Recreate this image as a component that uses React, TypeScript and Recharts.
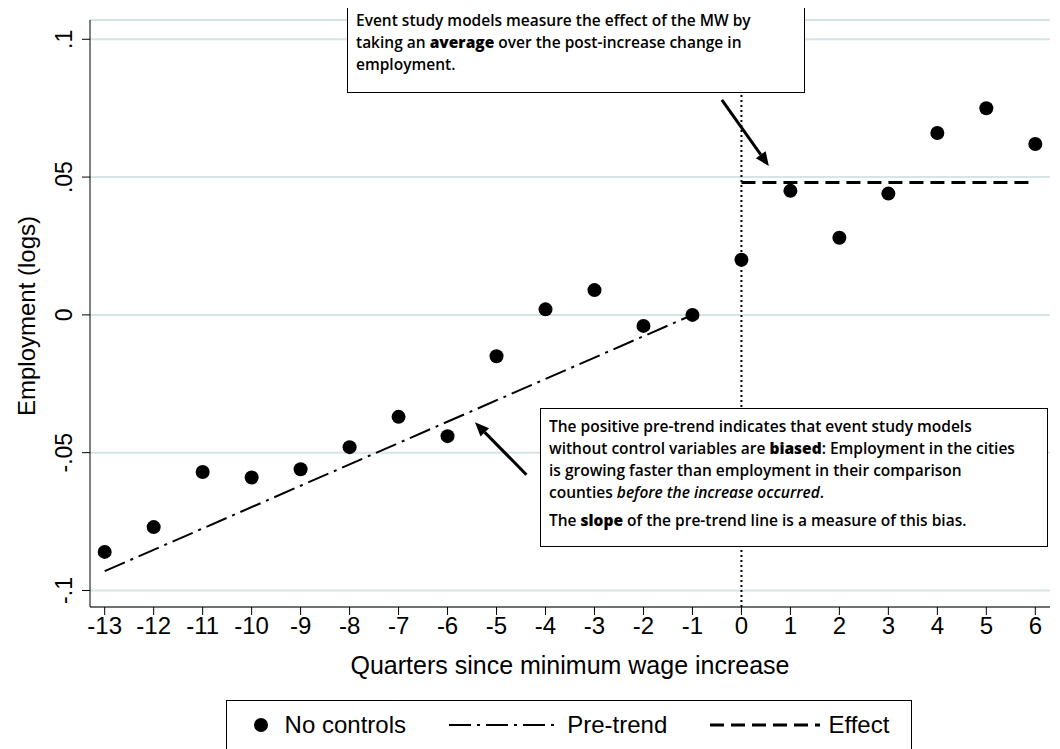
import React from 'react';
import {
  ComposedChart,
  Scatter,
  Line,
  XAxis,
  YAxis,
  CartesianGrid,
  ReferenceLine,
} from 'recharts';

const QUARTERS = [-13, -12, -11, -10, -9, -8, -7, -6, -5, -4, -3, -2, -1, 0, 1, 2, 3, 4, 5, 6];
const NO_CONTROLS = [
  -0.086, -0.077, -0.057, -0.059, -0.056, -0.048, -0.037, -0.044, -0.015, 0.002,
  0.009, -0.004, 0, 0.02, 0.045, 0.028, 0.044, 0.066, 0.075, 0.062,
];
const PRE_TREND = [
  { q: -13, v: -0.093 },
  { q: -1, v: 0 },
];
const EFFECT = [
  { q: 0, v: 0.048 },
  { q: 6, v: 0.048 },
];
const Y_TICKS = [-0.1, -0.05, 0, 0.05, 0.1];
const Y_LABELS = ['-.1', '-.05', '0', '.05', '.1'];

const points = QUARTERS.map((q, i) => ({ q, v: NO_CONTROLS[i] }));
const FONT = '"Liberation Sans", Arial, sans-serif';
const NOTE_FONT = '"Open Sans", "DejaVu Sans", sans-serif';

const YTick = (props: any) => {
  const { x, y, payload } = props;
  const label = Y_LABELS[Y_TICKS.indexOf(payload.value)] ?? String(payload.value);
  return (
    <text
      x={x - 8}
      y={y}
      transform={`rotate(-90 ${x - 8} ${y})`}
      textAnchor="middle"
      fontSize={23}
      fontFamily={FONT}
      fill="#000"
    >
      {label}
    </text>
  );
};

const Arrow = (props: any) => {
  const { x1, y1, x2, y2 } = props;
  if ([x1, y1, x2, y2].some((v) => typeof v !== 'number')) return null;
  const a = Math.atan2(y2 - y1, x2 - x1);
  const L = 14;
  const w = 6;
  const bx = x2 - L * Math.cos(a);
  const by = y2 - L * Math.sin(a);
  const px = -Math.sin(a) * w;
  const py = Math.cos(a) * w;
  return (
    <g>
      <line x1={x1} y1={y1} x2={bx} y2={by} stroke="#000" strokeWidth={3} />
      <polygon points={`${x2},${y2} ${bx + px},${by + py} ${bx - px},${by - py}`} fill="#000" />
    </g>
  );
};

const Dot = (props: any) => <circle cx={props.cx} cy={props.cy} r={7} fill="#000" />;

const noteStyle: React.CSSProperties = {
  position: 'absolute',
  boxSizing: 'border-box',
  padding: '6px 8px',
  border: '1px solid #000',
  background: '#fff',
  fontFamily: NOTE_FONT,
  fontSize: 15.5,
  fontWeight: 600,
  lineHeight: '22px',
};

export default function App() {
  return (
    <div style={{ position: 'relative', width: 1060, height: 749, margin: '-8px 0 0 -8px', background: '#fff' }}>
      <ComposedChart
        width={1060}
        height={660}
        margin={{ top: 20, right: 10, left: 0, bottom: 0 }}
      >
        <CartesianGrid horizontal vertical={false} stroke="#d6e4e8" strokeWidth={2} />
        <XAxis
          dataKey="q"
          type="number"
          domain={[-13.3, 6.3]}
          ticks={QUARTERS}
          height={53}
          tick={{ fontSize: 24, fontFamily: FONT, fill: '#000' }}
          tickSize={8}
          stroke="#000"
          allowDuplicatedCategory={false}
        />
        <YAxis
          type="number"
          domain={[-0.106, 0.107]}
          ticks={Y_TICKS}
          width={90}
          tick={<YTick />}
          tickSize={8}
          stroke="#000"
        />
        <ReferenceLine x={0} stroke="#000" strokeWidth={2} strokeDasharray="2 3" />
        <Line
          data={PRE_TREND}
          dataKey="v"
          stroke="#000"
          strokeWidth={2}
          strokeDasharray="22 6 3 6"
          dot={false}
          isAnimationActive={false}
        />
        <Line
          data={EFFECT}
          dataKey="v"
          stroke="#000"
          strokeWidth={3}
          strokeDasharray="14 7"
          dot={false}
          isAnimationActive={false}
        />
        <Scatter data={points} dataKey="v" shape={<Dot />} isAnimationActive={false} />
        <ReferenceLine segment={[{ x: -0.4, y: 0.078 }, { x: 0.56, y: 0.054 }]} shape={<Arrow />} />
        <ReferenceLine segment={[{ x: -4.39, y: -0.058 }, { x: -5.44, y: -0.039 }]} shape={<Arrow />} />
      </ComposedChart>

      <div style={{ position: 'absolute', left: 0, top: 316, width: 54, height: 0 }}>
        <div
          style={{
            position: 'absolute',
            left: 27,
            top: 0,
            transform: 'translate(-50%, -50%) rotate(-90deg)',
            whiteSpace: 'nowrap',
            fontFamily: FONT,
            fontSize: 24,
          }}
        >
          Employment (logs)
        </div>
      </div>
      <div
        style={{
          position: 'absolute',
          left: 90,
          width: 960,
          top: 651,
          textAlign: 'center',
          fontFamily: FONT,
          fontSize: 25,
        }}
      >
        Quarters since minimum wage increase
      </div>

      <div style={{ ...noteStyle, left: 347, top: 2, width: 458, height: 91 }}>
        Event study models measure the effect of the MW by taking an <b>average</b> over the
        post-increase change in employment.
      </div>

      <div style={{ ...noteStyle, left: 540, top: 408, width: 508, height: 139, whiteSpace: 'nowrap' }}>
        <div>
          The positive pre-trend indicates that event study models
          <br />
          without control variables are <b>biased</b>: Employment in the cities
          <br />
          is growing faster than employment in their comparison
          <br />
          counties <i>before the increase occurred</i>.
        </div>
        <div style={{ marginTop: 6 }}>
          The <b>slope</b> of the pre-trend line is a measure of this bias.
        </div>
      </div>

      <div
        style={{
          position: 'absolute',
          left: 226,
          top: 700,
          width: 686,
          height: 49,
          boxSizing: 'border-box',
          border: '1px solid #000',
          borderBottom: 'none',
          display: 'flex',
          alignItems: 'center',
          justifyContent: 'space-around',
          fontFamily: FONT,
          fontSize: 24,
        }}
      >
        <span style={{ display: 'flex', alignItems: 'center' }}>
          <svg width={24} height={20}><circle cx={12} cy={10} r={7} fill="#000" /></svg>
          <span style={{ marginLeft: 12 }}>No controls</span>
        </span>
        <span style={{ display: 'flex', alignItems: 'center' }}>
          <svg width={110} height={20}>
            <line x1={0} y1={10} x2={110} y2={10} stroke="#000" strokeWidth={2} strokeDasharray="22 6 3 6" />
          </svg>
          <span style={{ marginLeft: 8 }}>Pre-trend</span>
        </span>
        <span style={{ display: 'flex', alignItems: 'center' }}>
          <svg width={110} height={20}>
            <line x1={0} y1={10} x2={110} y2={10} stroke="#000" strokeWidth={3} strokeDasharray="14 7" />
          </svg>
          <span style={{ marginLeft: 8 }}>Effect</span>
        </span>
      </div>
    </div>
  );
}
